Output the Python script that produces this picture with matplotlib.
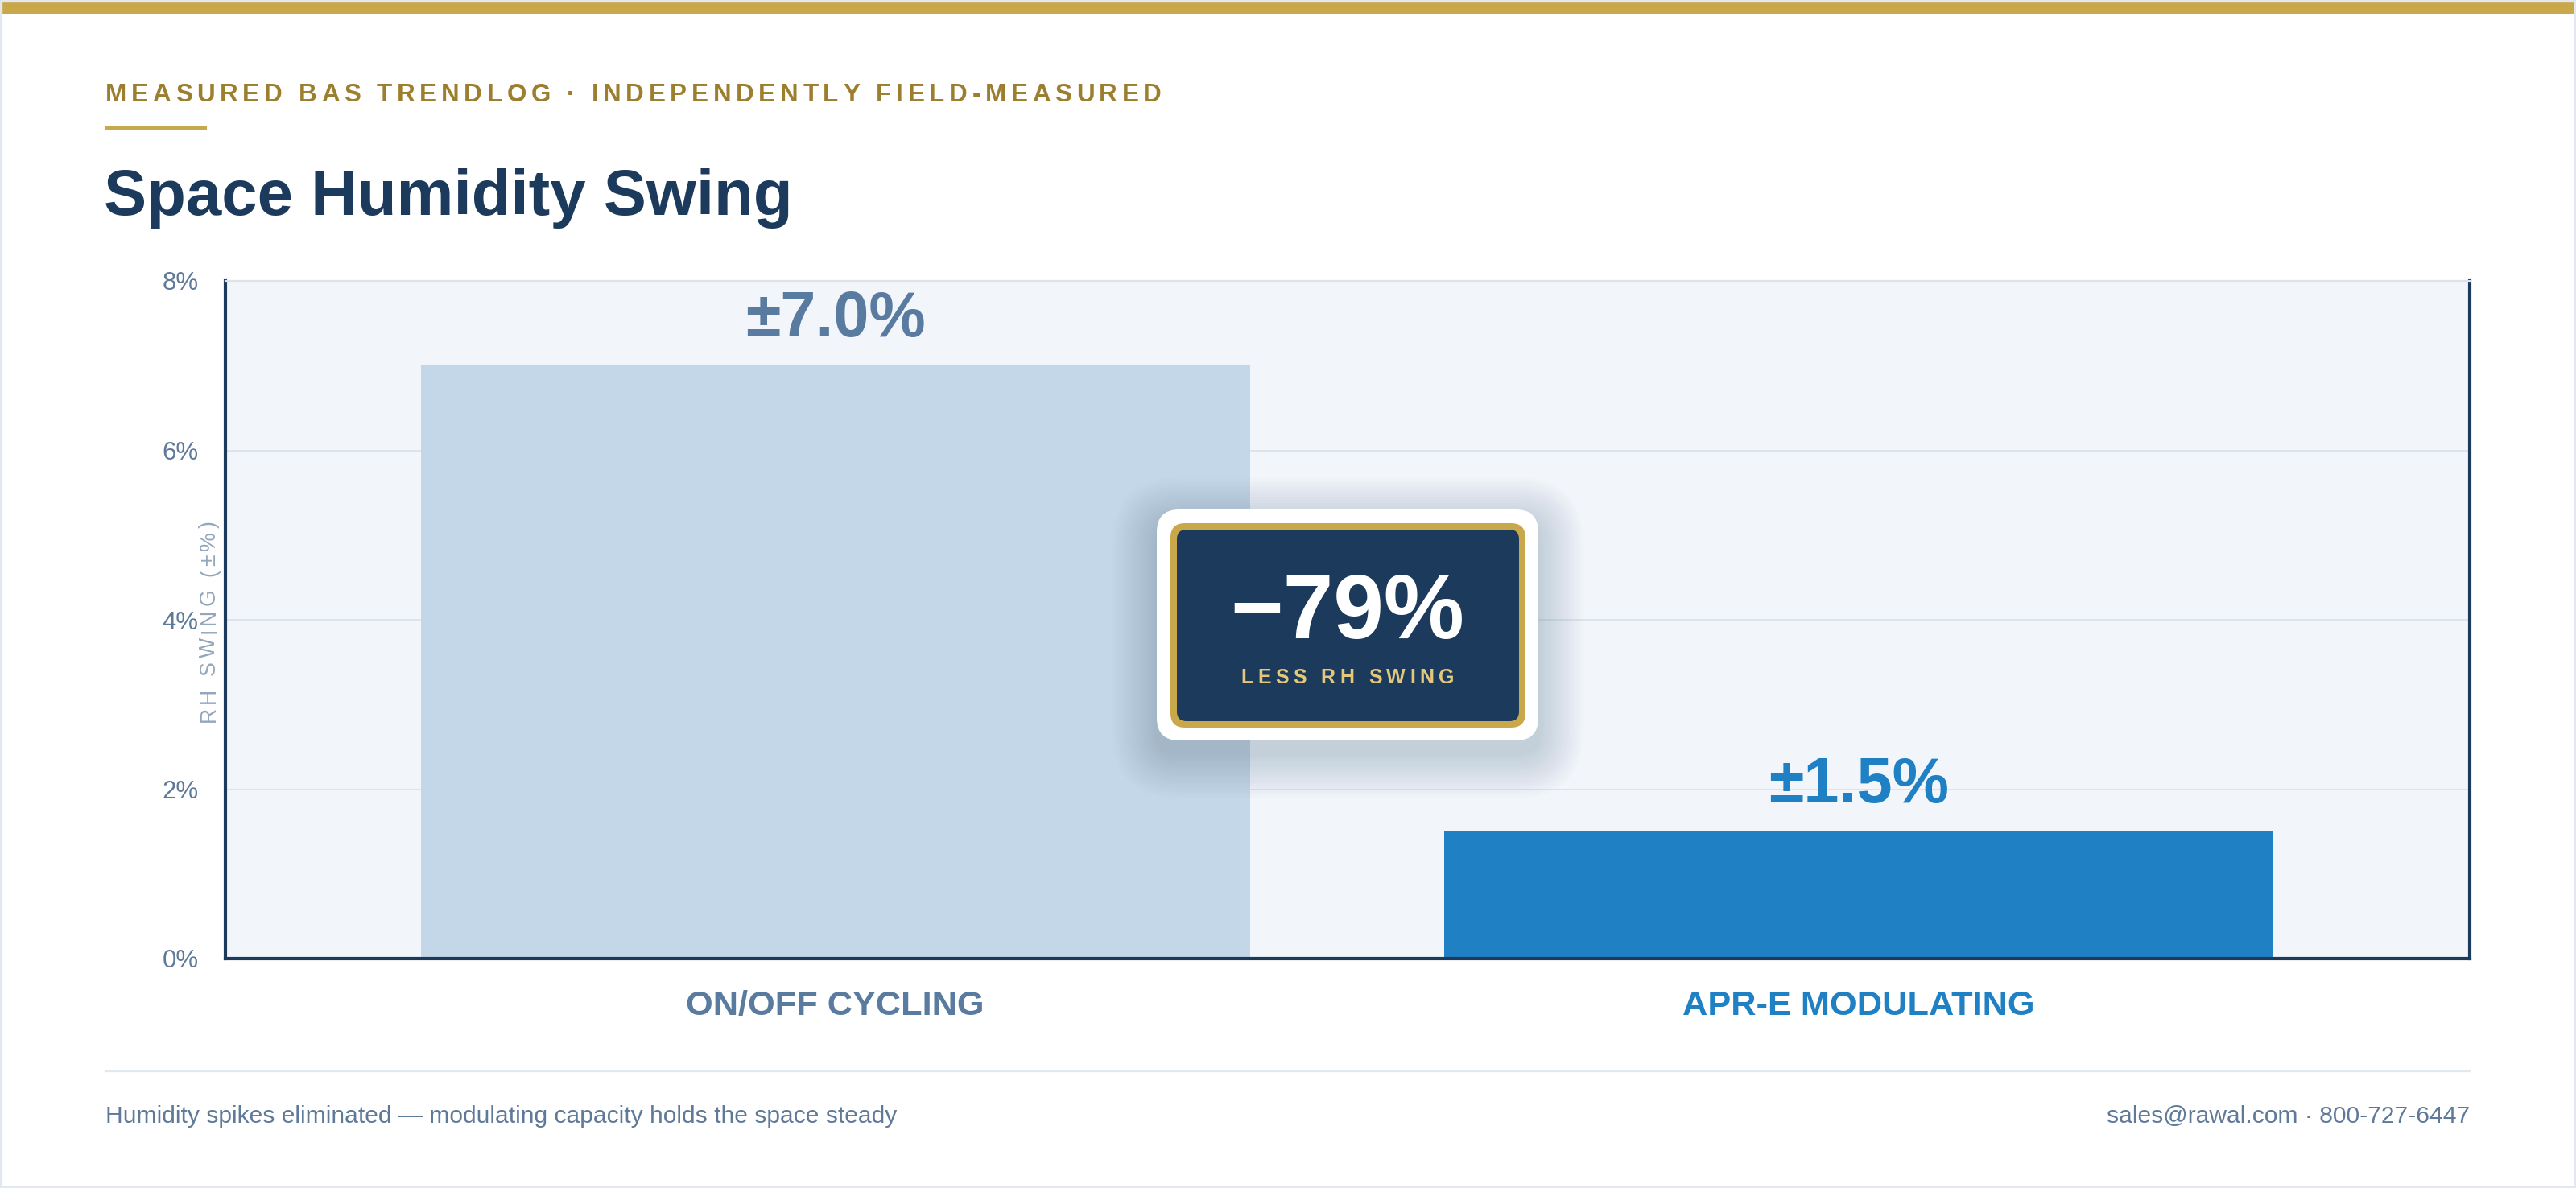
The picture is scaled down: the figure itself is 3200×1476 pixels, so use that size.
import numpy as np
import matplotlib
matplotlib.use('Agg')
import matplotlib.pyplot as plt
from matplotlib.patches import FancyBboxPatch, Rectangle
from matplotlib.transforms import IdentityTransform
from matplotlib.lines import Line2D

# ---------------- data ----------------
categories = ['ON/OFF CYCLING', 'APR-E MODULATING']
rh_swing = [7.0, 1.5]
value_labels = ['±7.0%', '±1.5%']
y_ticks = [0, 2, 4, 6, 8]
y_tick_labels = ['0%', '2%', '4%', '6%', '8%']
reduction_label = '−79%'
reduction_caption = 'LESS RH SWING'
eyebrow = 'MEASURED BAS TRENDLOG · INDEPENDENTLY FIELD-MEASURED'
title = 'Space Humidity Swing'
y_label = 'RH SWING (±%)'
footer_left = 'Humidity spikes eliminated — modulating capacity holds the space steady'
footer_right = 'sales@rawal.com · 800-727-6447'

# ---------------- style ----------------
W, H = 3200, 1476
DPI = 200
FONT = ['Liberation Sans', 'DejaVu Sans']
plt.rcParams['font.family'] = FONT

NAVY = '#1B3A5C'
GOLD = '#C9A84C'
GOLD_TEXT = '#9C7F2E'
SLATE = '#5A7BA0'
BLUE = '#1F80C4'
LIGHT_BAR = '#C3D7E9'
TICK_C = '#5F7A99'
GRID_C = '#DCE3EC'

fig = plt.figure(figsize=(W / DPI, H / DPI), dpi=DPI, facecolor='white')
ID = IdentityTransform()


def D(y_px):
    """top-origin pixel y -> display y"""
    return H - y_px


renderer = fig.canvas.get_renderer()


def text_width(s, **kw):
    t = fig.text(0, 0, s, transform=ID, **kw)
    w = t.get_window_extent(renderer).width
    t.remove()
    return w


def spaced(x, y, s, target_w, ha='left', rotation=0, zorder=5, **kw):
    ref = text_width('HH', **kw)
    widths = [text_width('H' + c + 'H', **kw) - ref for c in s]
    natural = sum(widths)
    spacing = (target_w - natural) / (len(s) - 1)
    total = natural + spacing * (len(s) - 1)
    if rotation == 0:
        pos = x - total / 2 if ha == 'center' else x
        for c, w in zip(s, widths):
            fig.text(pos, y, c, transform=ID, ha='left', va='baseline', zorder=zorder, **kw)
            pos += w + spacing
    else:
        pos = y - total / 2 if ha == 'center' else y
        for c, w in zip(s, widths):
            fig.text(x, pos, c, transform=ID, ha='left', va='baseline', rotation=90,
                     rotation_mode='anchor', zorder=zorder, **kw)
            pos += w + spacing


# ---------------- frame / header ----------------
fig.patches.append(Rectangle((0, D(17)), W, 15, transform=ID, facecolor=GOLD,
                             edgecolor='none', zorder=1))
fig.patches.append(Rectangle((1, 1), W - 2, H - 2, transform=ID, facecolor='none',
                             edgecolor='#E3E8EE', lw=1.2, zorder=1))

spaced(131, D(126), eyebrow, 1312, fontsize=11.3, fontweight='bold', color=GOLD_TEXT)
fig.patches.append(Rectangle((131, D(162)), 126, 6, transform=ID, facecolor=GOLD,
                             edgecolor='none', zorder=1))
fig.text(129, D(267), title, transform=ID, ha='left', va='baseline', fontsize=28.7,
         fontweight='bold', color=NAVY)

# ---------------- axes ----------------
L, R, T, B = 280, 3068, 349, 1191
ax = fig.add_axes([L / W, 1 - B / H, (R - L) / W, (B - T) / H])
ax.set_facecolor('#F2F6FA')
x = np.arange(len(categories))
ax.bar(x, rh_swing, width=0.81, color=[LIGHT_BAR, BLUE], zorder=2)
ax.set_xlim(-0.596, 1.597)
ax.set_ylim(0, 8)
ax.set_yticks(y_ticks)
ax.set_yticklabels(y_tick_labels)
ax.set_xticks(x)
ax.set_xticklabels(categories)
ax.yaxis.grid(True, color=GRID_C, lw=0.7)
ax.set_axisbelow(True)
ax.tick_params(axis='both', length=0)
ax.tick_params(axis='y', pad=12, labelsize=11.2, labelcolor=TICK_C)
ax.tick_params(axis='x', pad=14, labelsize=15.6)
for lbl, col in zip(ax.get_xticklabels(), [SLATE, BLUE]):
    lbl.set_color(col)
    lbl.set_fontweight('bold')
for s in ['left', 'bottom', 'right']:
    ax.spines[s].set_color(NAVY)
    ax.spines[s].set_linewidth(1.5)
ax.spines['top'].set_color(GRID_C)
ax.spines['top'].set_linewidth(0.8)

for xi, v, lab, col in zip(x, rh_swing, value_labels, [SLATE, BLUE]):
    ax.annotate(lab, (xi, v), xytext=(0, 13), textcoords='offset points',
                ha='center', va='baseline', fontsize=28.5, fontweight='bold',
                color=col, zorder=4)

# rotated, letter-spaced y label
spaced(267, D(772), y_label, 250, ha='center', rotation=90, fontsize=9.6,
       color='#93A6BC')

# ---------------- callout ----------------
cx = 1674
ox0, ox1, oy0, oy1 = 1437, 1911, 633, 920
for i in range(16):
    e = 3 + i * 3.5
    fig.patches.append(FancyBboxPatch(
        (ox0 - e, D(oy1 + 16) - e), (ox1 - ox0) + 2 * e, (oy1 - oy0) + 2 * e,
        boxstyle='round,pad=0,rounding_size=%f' % (28 + e), transform=ID,
        facecolor=NAVY, edgecolor='none', alpha=0.011, zorder=6))
fig.patches.append(FancyBboxPatch((ox0, D(oy1)), ox1 - ox0, oy1 - oy0,
                                  boxstyle='round,pad=0,rounding_size=28', transform=ID,
                                  facecolor='white', edgecolor='none', zorder=7))
fig.patches.append(FancyBboxPatch((1454, D(904)), 1895 - 1454, 904 - 650,
                                  boxstyle='round,pad=0,rounding_size=18', transform=ID,
                                  facecolor=GOLD, edgecolor='none', zorder=8))
fig.patches.append(FancyBboxPatch((1462, D(896)), 1887 - 1462, 896 - 658,
                                  boxstyle='round,pad=0,rounding_size=12', transform=ID,
                                  facecolor=NAVY, edgecolor='none', zorder=9))
fig.text(cx, D(793), reduction_label, transform=ID, ha='center', va='baseline',
         fontsize=40.5, fontweight='bold', color='white', zorder=10)
spaced(cx, D(849), reduction_caption, 265, ha='center', fontsize=9, fontweight='bold',
       color='#E3C77A', zorder=10)

# ---------------- footer ----------------
fig.lines.append(Line2D([131, 3068], [D(1331), D(1331)], transform=ID, color='#E2E8F0',
                        lw=0.8, zorder=1))
fig.text(131, D(1395), footer_left, transform=ID, ha='left', va='baseline',
         fontsize=10.8, color=TICK_C)
fig.text(3068, D(1395), footer_right, transform=ID, ha='right', va='baseline',
         fontsize=10.8, color=TICK_C)

fig.savefig('out.png', dpi=DPI, facecolor='white')
